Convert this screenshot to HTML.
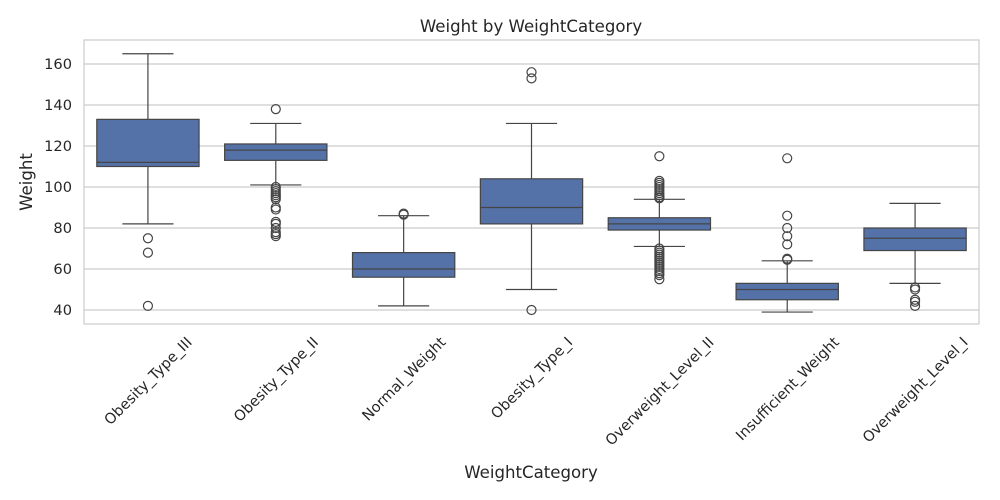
<!DOCTYPE html>
<html><head><meta charset="utf-8"><style>
body{margin:0;background:#fff}
svg{font-family:"DejaVu Sans","Liberation Sans",sans-serif;display:block}
</style></head><body>
<svg id="c" width="1000" height="500"></svg>
<script>
const categories=["Obesity_Type_III","Obesity_Type_II","Normal_Weight","Obesity_Type_I","Overweight_Level_II","Insufficient_Weight","Overweight_Level_I"];
const whiskerLow=[82,101,42,50,71,39,53];
const q1=[110,113,56,82,79,45,69];
const medians=[112,118,60,90,82,50,75];
const q3=[133,121,68,104,85,53,80];
const whiskerHigh=[165,131,86,131,94,64,92];
const outliers=[[75,68,42],[138,100,99,98,97,96,95,94,90,89,83,82,80,78,77,76],[87,86.5],[153,156,40],[115,103,102,101,100,99,98,97,96,95,94.5,70,69,68,67,66,65,64,63,62,61,60,59,58,57,55],[114,86,80,76,72,65,64.5],[51,50,45,44,42]];
const yTicks=[40,60,80,100,120,140,160];
const NS="http://www.w3.org/2000/svg",svg=document.getElementById('c');
const L=84,R=979,T=40,B=324;
const y=v=>310-(v-40)*246/120;
const step=(R-L)/categories.length;
const x=i=>L+step*(i+0.5);
function el(t,a,p){const e=document.createElementNS(NS,t);for(const k in a)e.setAttribute(k,a[k]);(p||svg).appendChild(e);return e;}
yTicks.forEach(v=>{
 const g=el('line',{x1:L,x2:R,y1:y(v),y2:y(v),stroke:'#cccccc','stroke-width':1.2});
 
 
 const t=el('text',{x:L-12,y:y(v)+5,'text-anchor':'end','font-size':14.6,fill:'#262626'});t.textContent=v;
 
 
});
const fr=el('rect',{x:L,y:T,width:R-L,height:B-T,fill:'none',stroke:'#cccccc','stroke-width':1.2});


const bw=step*0.8,lc='#454545';
categories.forEach((c,i)=>{
 const cx=x(i);
 const g=el('g',{});
 
 
 el('line',{x1:cx,x2:cx,y1:y(whiskerLow[i]),y2:y(q1[i]),stroke:lc,'stroke-width':1.2},g);
 el('line',{x1:cx,x2:cx,y1:y(q3[i]),y2:y(whiskerHigh[i]),stroke:lc,'stroke-width':1.2},g);
 el('line',{x1:cx-bw/4,x2:cx+bw/4,y1:y(whiskerLow[i]),y2:y(whiskerLow[i]),stroke:lc,'stroke-width':1.2},g);
 el('line',{x1:cx-bw/4,x2:cx+bw/4,y1:y(whiskerHigh[i]),y2:y(whiskerHigh[i]),stroke:lc,'stroke-width':1.2},g);
 el('rect',{x:cx-bw/2,y:y(q3[i]),width:bw,height:y(q1[i])-y(q3[i]),fill:'#5471a8',stroke:lc,'stroke-width':1.2},g);
 el('line',{x1:cx-bw/2,x2:cx+bw/2,y1:y(medians[i]),y2:y(medians[i]),stroke:lc,'stroke-width':1.2},g);
 outliers[i].forEach(v=>el('circle',{cx:cx,cy:y(v),r:4.5,fill:'none',stroke:lc,'stroke-width':1.2},g));
 const t=el('text',{'text-anchor':'middle','dominant-baseline':'central','font-size':14.6,fill:'#262626'});
 t.textContent=c;
 
 
 const len=t.getComputedTextLength();
 const cy=335+(len+14)*0.707/2;
 t.setAttribute('x',cx+0.5);t.setAttribute('y',cy);
 t.setAttribute('transform',`rotate(-45 ${cx+0.5} ${cy})`);
});
</script>
<script>
(function(){const svg=document.getElementById('c'),NS="http://www.w3.org/2000/svg";
function txt(s,a,n){const t=document.createElementNS(NS,'text');for(const k in a)t.setAttribute(k,a[k]);t.textContent=s;t.setAttribute('fill','#262626');svg.appendChild(t);}
txt('Weight by WeightCategory',{x:531,y:32,'text-anchor':'middle','font-size':16.6},'chart-title');
txt('WeightCategory',{x:531,y:478,'text-anchor':'middle','font-size':16.6},'x-axis-title');
txt('Weight',{x:32,y:182,'text-anchor':'middle','font-size':16.6,transform:'rotate(-90 32 182)'},'y-axis-title');
})();
</script>
</body></html>
